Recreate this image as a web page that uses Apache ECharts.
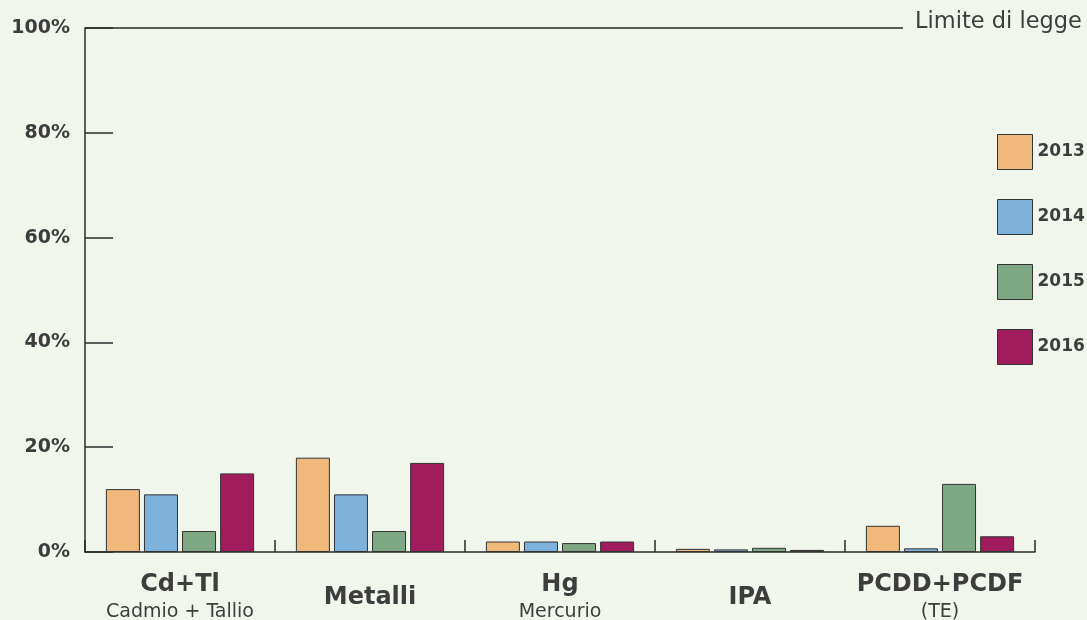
<!DOCTYPE html>
<html>
<head>
<meta charset="utf-8">
<script src="https://cdn.jsdelivr.net/npm/echarts@6/dist/echarts.min.js"></script>
<style>
  html, body { margin: 0; padding: 0; background: #f1f6ec; }
  #chart { width: 1087px; height: 620px; }
</style>
</head>
<body>
<div id="chart"></div>
<script>
// Emission values as a percentage of the legal limit
const categories = ['Cd+Tl', 'Metalli', 'Hg', 'IPA', 'PCDD+PCDF'];
const subtitles = ['Cadmio + Tallio', '', 'Mercurio', '', '(TE)'];
const years = ['2013', '2014', '2015', '2016'];
const values2013 = [12, 18, 2, 0.6, 5];
const values2014 = [11, 11, 2, 0.5, 0.7];
const values2015 = [4, 4, 1.7, 0.8, 13];
const values2016 = [15, 17, 2, 0.4, 3];
const yTicks = [0, 20, 40, 60, 80, 100];
const limitLabel = 'Limite di legge';
const colors = ['#f0b97b', '#7fb2db', '#7da883', '#a01c5d'];

const seriesValues = [values2013, values2014, values2015, values2016];
const textColor = '#3d3d3d';
const axisColor = '#2b2b2b';
const font = 'DejaVu Sans';

const chart = echarts.init(document.getElementById('chart'), null, { renderer: 'canvas' });

const option = {
  backgroundColor: '#f1f6ec',
  animation: false,
  grid: { left: 85, right: 52, top: 28, bottom: 68, containLabel: false, outerBoundsMode: 'none' },
  legend: {
    orient: 'vertical',
    left: 997,
    top: 134,
    padding: 0,
    itemWidth: 35,
    itemHeight: 35,
    itemGap: 29,
    icon: 'rect',
    itemStyle: { borderColor: '#333', borderWidth: 1 },
    textStyle: { fontFamily: font, fontWeight: 'bold', fontSize: 17, color: textColor },
    data: years
  },
  xAxis: {
    type: 'category',
    data: categories,
    boundaryGap: true,
    axisLine: { show: true, lineStyle: { color: axisColor, width: 1.5 } },
    axisTick: { show: true, interval: 0, inside: true, length: 12, lineStyle: { color: axisColor, width: 1.5 } },
    axisLabel: {
      margin: 19,
      interval: 0,
      formatter: function (value, idx) {
        const sub = subtitles[idx];
        return sub ? '{a|' + value + '}\n{b|' + sub + '}' : '{c|' + value + '}';
      },
      rich: {
        a: { fontFamily: font, fontWeight: 'bold', fontSize: 24, color: textColor, lineHeight: 28 },
        b: { fontFamily: font, fontSize: 19, color: textColor, lineHeight: 26 },
        c: { fontFamily: font, fontWeight: 'bold', fontSize: 24, color: textColor, lineHeight: 28, padding: [26, 0, 0, 0] }
      }
    }
  },
  yAxis: {
    type: 'value',
    min: 0,
    max: 100,
    interval: 20,
    axisLine: { show: true, lineStyle: { color: axisColor, width: 1.5 } },
    axisTick: { show: true, inside: true, length: 28, lineStyle: { color: axisColor, width: 1.5 } },
    splitLine: { show: false },
    axisLabel: {
      margin: 15,
      fontFamily: font,
      fontWeight: 'bold',
      fontSize: 19,
      color: textColor,
      formatter: function (v) { return yTicks.indexOf(v) >= 0 ? v + '%' : ''; }
    }
  },
  series: years.map(function (year, i) {
    return {
      name: year,
      type: 'bar',
      data: seriesValues[i],
      barWidth: 34,
      barGap: '12%',
      itemStyle: { color: colors[i], borderColor: '#333', borderWidth: 1 }
    };
  })
};

chart.setOption(option);

// Legal-limit line at 100%, ending before its caption
const yLimit = chart.convertToPixel({ yAxisIndex: 0 }, 100);
const xStart = chart.convertToPixel({ xAxisIndex: 0 }, 0) - 95;
chart.setOption({
  graphic: [
    {
      type: 'line',
      shape: { x1: xStart, y1: yLimit, x2: 903, y2: yLimit },
      style: { stroke: axisColor, lineWidth: 1.5 }
    },
    {
      type: 'text',
      x: 915,
      y: yLimit - 6,
      style: { text: limitLabel, fontFamily: font, fontSize: 22.5, fill: textColor, verticalAlign: 'middle' }
    }
  ]
});
</script>
</body>
</html>
